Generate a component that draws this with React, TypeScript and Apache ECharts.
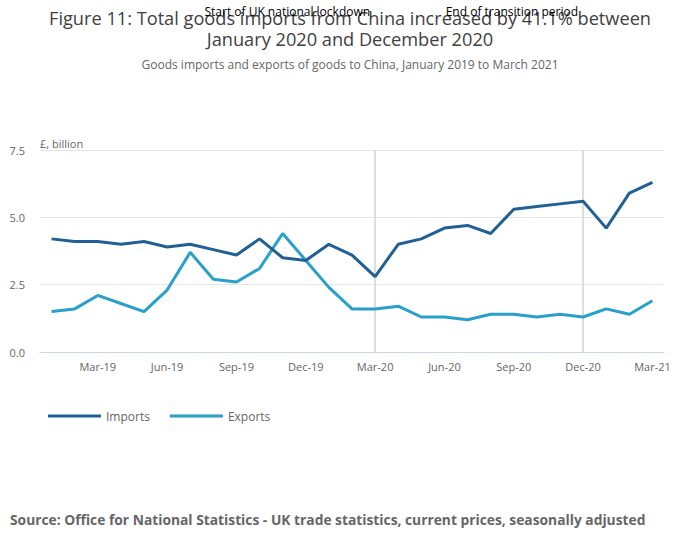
import React, { useEffect, useRef } from "react";
import * as echarts from "echarts";

const months = [
  "Jan-19", "Feb-19", "Mar-19", "Apr-19", "May-19", "Jun-19", "Jul-19", "Aug-19", "Sep-19",
  "Oct-19", "Nov-19", "Dec-19", "Jan-20", "Feb-20", "Mar-20", "Apr-20", "May-20", "Jun-20",
  "Jul-20", "Aug-20", "Sep-20", "Oct-20", "Nov-20", "Dec-20", "Jan-21", "Feb-21", "Mar-21",
];
const imports = [
  4.2, 4.1, 4.1, 4.0, 4.1, 3.9, 4.0, 3.8, 3.6, 4.2, 3.5, 3.4, 4.0, 3.6, 2.8, 4.0, 4.2, 4.6,
  4.7, 4.4, 5.3, 5.4, 5.5, 5.6, 4.6, 5.9, 6.3,
];
const exportsData = [
  1.5, 1.6, 2.1, 1.8, 1.5, 2.3, 3.7, 2.7, 2.6, 3.1, 4.4, 3.4, 2.4, 1.6, 1.6, 1.7, 1.3, 1.3,
  1.2, 1.4, 1.4, 1.3, 1.4, 1.3, 1.6, 1.4, 1.9,
];
const yTicks = [0, 2.5, 5, 7.5];
const events = [
  { month: "Mar-20", label: "Start of UK national lockdown" },
  { month: "Dec-20", label: "End of transition period" },
];

const FONT = "'Open Sans', sans-serif";
const SOURCE = "Source: Office for National Statistics - UK trade statistics, current prices, seasonally adjusted";

export default function App() {
  const ref = useRef<HTMLDivElement>(null);
  useEffect(() => {
    document.body.style.margin = "0";
    const chart = echarts.init(ref.current!, undefined, { renderer: "svg" });
    chart.setOption({
      animation: false,
      textStyle: { fontFamily: FONT },
      title: {
        text: "Figure 11: Total goods imports from China increased by 41.1% between\nJanuary 2020 and December 2020",
        subtext: "Goods imports and exports of goods to China, January 2019 to March 2021",
        left: "center",
        top: 2,
        itemGap: 9,
        textStyle: { fontFamily: FONT, fontSize: 18.2, fontWeight: "normal", color: "#414042", lineHeight: 21 },
        subtextStyle: { fontFamily: FONT, fontSize: 12, color: "#666" },
      },
      grid: { left: 40, right: 36, top: 150, bottom: 197 },
      legend: {
        left: 43,
        top: 405,
        icon: "rect",
        itemWidth: 53,
        itemHeight: 3,
        itemGap: 20,
        textStyle: { fontFamily: FONT, fontSize: 12, color: "#666" },
        data: ["Imports", "Exports"],
      },
      xAxis: {
        type: "category",
        data: months,
        boundaryGap: true,
        axisLine: { lineStyle: { color: "#ccd6eb" } },
        axisTick: {
          alignWithLabel: true,
          interval: (i: number) => i % 3 === 2,
          length: 8,
          lineStyle: { color: "#ccd6eb" },
        },
        axisLabel: {
          interval: (i: number) => i % 3 === 2,
          color: "#666",
          fontSize: 11,
          fontFamily: FONT,
          margin: 9,
        },
      },
      yAxis: {
        type: "value",
        min: 0,
        max: 7.5,
        interval: 2.5,
        name: "£, billion",
        nameLocation: "end",
        nameGap: 1,
        nameTextStyle: { align: "left", verticalAlign: "bottom", color: "#666", fontSize: 11, fontFamily: FONT },
        axisLine: { show: false },
        axisTick: { show: false },
        axisLabel: {
          color: "#666",
          fontSize: 11,
          fontFamily: FONT,
          margin: 15,
          formatter: (v: number) => (yTicks.includes(v) ? v.toFixed(1) : ""),
        },
        splitLine: { lineStyle: { color: "#e6e6e6" } },
      },
      series: [
        {
          name: "Exports",
          type: "line",
          data: exportsData,
          symbol: "none",
          lineStyle: { color: "#27a0cc", width: 3 },
          itemStyle: { color: "#27a0cc" },
          z: 3,
        },
        {
          name: "Imports",
          type: "line",
          data: imports,
          symbol: "none",
          lineStyle: { color: "#206095", width: 3 },
          itemStyle: { color: "#206095" },
          z: 4,
          markLine: {
            silent: true,
            symbol: "none",
            label: { show: false },
            lineStyle: { color: "#dddddd", width: 2, type: "solid" },
            data: events.map((e) => ({ xAxis: e.month })),
            z: 1,
          },
        },
      ],
    });
    const annot = events.map((e) => {
      const p = chart.convertToPixel({ xAxisIndex: 0 }, e.month) as number;
      return {
        type: "text",
        x: p - 5,
        y: 11,
        style: {
          text: e.label,
          fontFamily: FONT,
          fontSize: 12,
          fill: "#000",
          align: "right",
          verticalAlign: "middle",
        },
        z: 100,
      };
    });
    chart.setOption({
      graphic: [
        {
          type: "text",
          left: 10,
          top: 512,
          style: {
            text: SOURCE,
            fontFamily: FONT,
            fontSize: 13.8,
            fontWeight: "bold",
            fill: "#666",
          },
        },
        ...annot,
      ],
    });
    return () => chart.dispose();
  }, []);
  return <div ref={ref} style={{ width: 700, height: 549 }} />;
}
